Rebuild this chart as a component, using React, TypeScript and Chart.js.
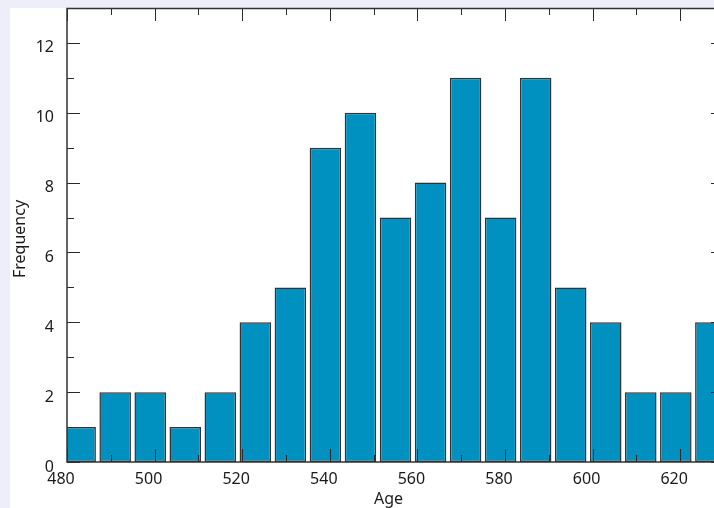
import React, { useEffect, useRef } from 'react';
import { Chart, registerables } from 'chart.js';

Chart.register(...registerables);

// Histogram bins (centre of each 8-year bin) and their frequencies
const BIN_CENTERS = [483, 491, 499, 507, 515, 523, 531, 539, 547, 555, 563, 571, 579, 587, 595, 603, 611, 619, 627];
const FREQUENCIES = [1, 2, 2, 1, 2, 4, 5, 9, 10, 7, 8, 11, 7, 11, 5, 4, 2, 2, 4];

const X_MAJOR_TICKS = [480, 500, 520, 540, 560, 580, 600, 620];
const X_MINOR_TICKS = [490, 510, 530, 550, 570, 590, 610];
const Y_MAJOR_TICKS = [0, 2, 4, 6, 8, 10, 12];
const Y_MINOR_TICKS = [1, 3, 5, 7, 9, 11];

const X_TITLE = 'Age';
const Y_TITLE = 'Frequency';

const FONT = '"Noto Sans", "DejaVu Sans", sans-serif';

const framePlugin = {
  id: 'frame',
  beforeDraw(chart: any) {
    const { ctx, width, height } = chart;
    ctx.save();
    ctx.fillStyle = '#eeeefb';
    ctx.fillRect(0, 0, width, height);
    ctx.fillStyle = '#ffffff';
    ctx.fillRect(10, 8, width - 10, height - 8);
    ctx.restore();
  },
  afterDatasetsDraw(chart: any) {
    const { ctx, chartArea: a, scales } = chart;
    const xs = scales.x;
    const ys = scales.y;
    const MAJ = 13;
    const MIN = 7;
    ctx.save();
    ctx.strokeStyle = '#2a2a2a';
    ctx.lineWidth = 1;
    const line = (x1: number, y1: number, x2: number, y2: number) => {
      ctx.beginPath();
      ctx.moveTo(x1, y1);
      ctx.lineTo(x2, y2);
      ctx.stroke();
    };
    const xTick = (v: number, len: number) => {
      const px = Math.round(xs.getPixelForValue(v)) + 0.5;
      line(px, a.bottom, px, a.bottom - len);
      line(px, a.top, px, a.top + len);
    };
    const yTick = (v: number, len: number) => {
      const py = Math.round(ys.getPixelForValue(v)) + 0.5;
      line(a.left, py, a.left + len, py);
      line(a.right, py, a.right - len, py);
    };
    X_MAJOR_TICKS.forEach((v) => xTick(v, MAJ));
    X_MINOR_TICKS.forEach((v) => xTick(v, MIN));
    Y_MAJOR_TICKS.forEach((v) => yTick(v, MAJ));
    Y_MINOR_TICKS.forEach((v) => yTick(v, MIN));

    // frame
    ctx.strokeStyle = '#333333';
    ctx.lineWidth = 1.5;
    ctx.strokeRect(a.left, a.top + 0.5, a.right - a.left, a.bottom - a.top - 0.5);

    // axis titles
    ctx.fillStyle = '#1a1a1a';
    ctx.font = `16px ${FONT}`;
    ctx.textAlign = 'center';
    ctx.textBaseline = 'middle';
    ctx.fillText(X_TITLE, (a.left + a.right) / 2 - 7, a.bottom + 37);
    ctx.translate(20, (a.top + a.bottom) / 2 + 4);
    ctx.rotate(-Math.PI / 2);
    ctx.fillText(Y_TITLE, 0, 0);
    ctx.restore();
  },
};

export default function App() {
  const canvasRef = useRef<HTMLCanvasElement | null>(null);

  useEffect(() => {
    const canvas = canvasRef.current;
    if (!canvas) return;
    const chart = new Chart(canvas, {
      type: 'bar',
      data: {
        datasets: [
          {
            data: BIN_CENTERS.map((x, i) => ({ x, y: FREQUENCIES[i] })),
            backgroundColor: '#0091c0',
            borderColor: '#333333',
            borderWidth: 1.5,
            borderSkipped: false,
            barPercentage: 0.9,
            categoryPercentage: 1,
            clip: 0,
          } as any,
        ],
      },
      options: {
        animation: false,
        responsive: false,
        layout: { padding: { left: 0, top: 8, right: 16, bottom: 0 } },
        plugins: {
          legend: { display: false },
          tooltip: { enabled: false },
        },
        scales: {
          x: {
            type: 'linear',
            offset: false,
            min: 480,
            max: 630,
            grid: { display: false, drawTicks: false, offset: false },
            border: { display: false },
            ticks: {
              autoSkip: false,
              maxRotation: 0,
              padding: 8,
              labelOffset: -6,
              color: '#1a1a1a',
              font: { family: FONT, size: 16 },
            },
            afterBuildTicks: (s: any) => {
              s.ticks = X_MAJOR_TICKS.map((value) => ({ value }));
            },
            afterFit: (s: any) => {
              s.height = 58;
              s.paddingLeft = 0;
              s.paddingRight = 0;
            },
          },
          y: {
            type: 'linear',
            min: 0,
            max: 13,
            grid: { display: false, drawTicks: false },
            border: { display: false },
            ticks: {
              autoSkip: false,
              padding: 13,
              labelOffset: 5,
              color: '#1a1a1a',
              font: { family: FONT, size: 16 },
            },
            afterBuildTicks: (s: any) => {
              s.ticks = Y_MAJOR_TICKS.map((value) => ({ value }));
            },
            afterFit: (s: any) => {
              s.width = 67;
              s.paddingTop = 0;
              s.paddingBottom = 0;
            },
          },
        },
      },
      plugins: [framePlugin],
    });
    return () => chart.destroy();
  }, []);

  return (
    <div
      style={{
        position: 'fixed',
        left: 0,
        top: 0,
        width: '100vw',
        height: '100vh',
        overflow: 'hidden',
        background: '#eeeefb',
      }}
    >
      <canvas
        ref={canvasRef}
        width={740}
        height={520}
        style={{ position: 'absolute', left: 0, top: 0, width: 740, height: 520 }}
      />
    </div>
  );
}
